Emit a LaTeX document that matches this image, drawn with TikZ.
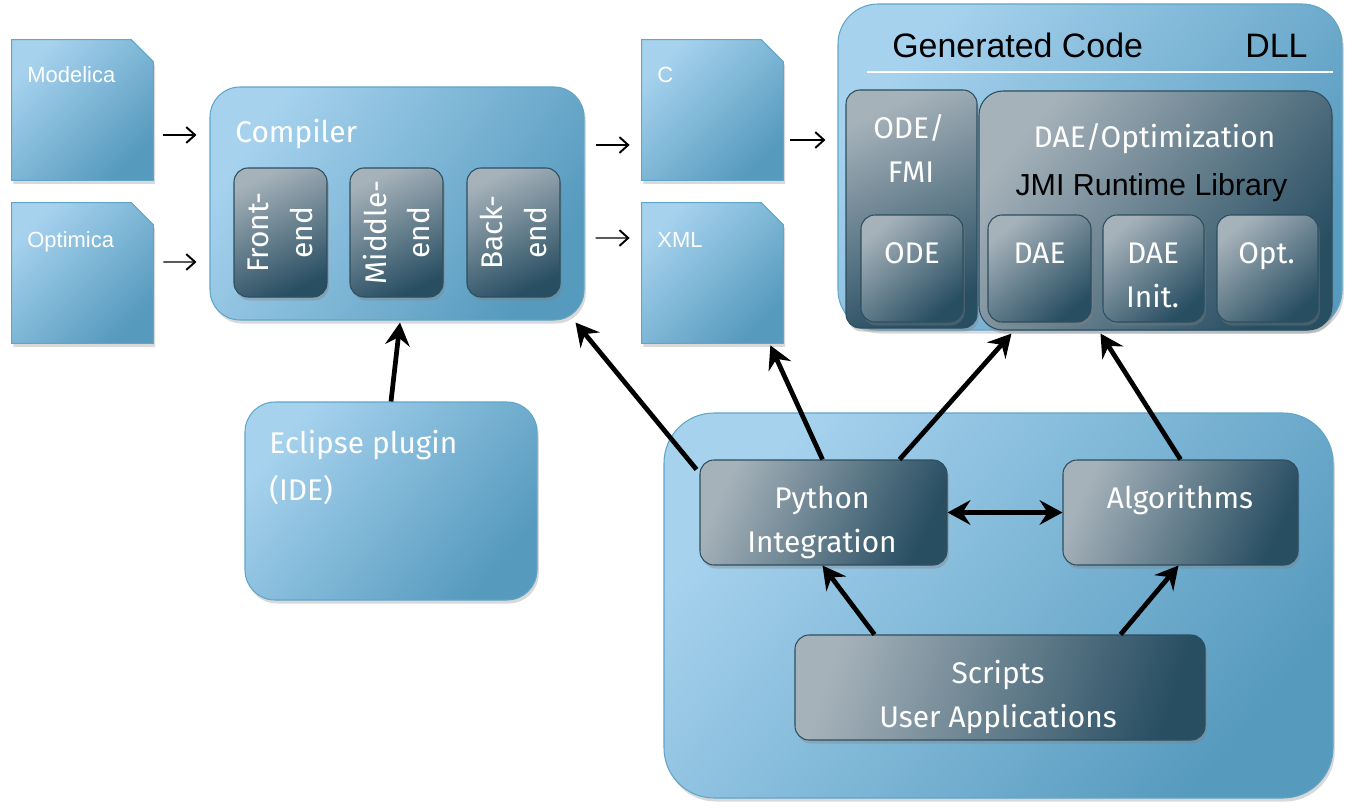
\documentclass[tikz,border=0pt]{standalone}
\usepackage{fontspec}
\setmainfont{Liberation Sans}
\newfontfamily\din{Fira Sans}
\usetikzlibrary{shadows,calc,arrows.meta}
\newdimen\pxu \pxu=0.02cm
\definecolor{lbtop}{RGB}{166,210,238}
\definecolor{lbbot}{RGB}{86,154,190}
\definecolor{lbord}{RGB}{96,166,200}
\definecolor{dbtop}{RGB}{166,178,186}
\definecolor{dbbot}{RGB}{40,78,98}
\definecolor{dbord}{RGB}{45,78,95}
\begin{document}
\begin{tikzpicture}[x=0.02cm,y=-0.02cm,
  lb/.style={draw=lbord, line width=0.6pt, top color=lbtop, bottom color=lbbot, shading angle=#1,
    drop shadow={opacity=0.3, shadow xshift=1pt, shadow yshift=-2pt}, inner sep=0pt},
  lb/.default=45,
  db/.style={draw=dbord, line width=0.6pt, top color=dbtop, bottom color=dbbot, shading angle=#1,
    rounded corners=14\pxu, drop shadow={opacity=0.35, shadow xshift=1pt, shadow yshift=-2pt}, inner sep=0pt},
  db/.default=45,
  docframe/.style={inner sep=0pt, minimum width=141\pxu, minimum height=140\pxu},
  doctxt/.style={anchor=base west, text=white, font=\fontsize{12.5pt}{15pt}\selectfont, inner sep=0pt},
  dintxt/.style={text=white, font=\din\fontsize{17pt}{25pt}\selectfont, inner sep=0pt},
  blacktxt/.style={text=black, inner sep=0pt},
  tharr/.style={line width=0.7pt, -{Straight Barb[length=5pt,width=9pt,line width=1.1pt]}},
  bigarr/.style={line width=2.7pt, -{Stealth[length=13pt,width=14pt,inset=4.5pt]}},
  bigdarr/.style={line width=2.7pt, {Stealth[length=13pt,width=14pt,inset=4.5pt]}-{Stealth[length=13pt,width=14pt,inset=4.5pt]}}
]
\useasboundingbox (0,0) rectangle (1365,811);

% documents
\node[docframe] (mod) at (82.5,110) {};
\node[docframe] (opt) at (82.5,273) {};
\node[docframe] (cdoc) at (712.5,110) {};
\node[docframe] (xml) at (712.5,273) {};
\foreach \d in {mod,opt,cdoc,xml}{
  \path[lb=45] (\d.north west) -- ($(\d.north east)+(-22,0)$) -- ($(\d.north east)+(0,22)$)
     -- (\d.south east) -- (\d.south west) -- cycle;
}
\node[doctxt] (tmod) at (27,83) {Modelica};
\node[doctxt] (topt) at (27,247) {Optimica};
\node[doctxt] (tc) at (657,83) {C};
\node[doctxt] (txml) at (657,247) {XML};

% compiler
\node[lb=55, rounded corners=30\pxu, minimum width=374\pxu, minimum height=233\pxu] (comp) at (397,203.5) {};
\node[dintxt, anchor=base west] (tcomp) at (235,142) {Compiler};
\node[db=25, minimum width=93\pxu, minimum height=129\pxu] (fe) at (280.5,232.5) {};
\node[db=25, minimum width=93\pxu, minimum height=129\pxu] (me) at (396.5,232.5) {};
\node[db=25, minimum width=93\pxu, minimum height=129\pxu] (be) at (513.5,232.5) {};
\node[dintxt, rotate=90, align=center] (tfe) at (fe) {Front-\\end};
\node[dintxt, rotate=90, align=center] (tme) at (me) {Middle-\\end};
\node[dintxt, rotate=90, align=center] (tbe) at (be) {Back-\\end};

% DLL
\node[lb=50, rounded corners=40\pxu, minimum width=504\pxu, minimum height=326\pxu] (dll) at (1090,167) {};
\node[blacktxt, anchor=base west, font=\fontsize{19.3pt}{23pt}\selectfont] (tgen) at (892,58) {Generated Code};
\node[blacktxt, anchor=base west, font=\fontsize{19.3pt}{23pt}\selectfont] (tdll) at (1245,58) {DLL};
\coordinate (l1) at (867,72);
\coordinate (l2) at (1333,72);
\draw[white, line width=0.8pt] (l1) -- (l2);
\node[db=25, minimum width=131\pxu, minimum height=238\pxu] (odefmi) at (911.5,209) {};
\node[db=50, minimum width=353\pxu, minimum height=239\pxu, rounded corners=24\pxu] (daeopt) at (1155.5,210.5) {};
\node[db=40, minimum width=102\pxu, minimum height=107\pxu] (ode) at (912,268.5) {};
\node[db=40, minimum width=103\pxu, minimum height=107\pxu] (dae) at (1039.5,268.5) {};
\node[db=40, minimum width=101\pxu, minimum height=107\pxu] (daei) at (1153.5,268.5) {};
\node[db=40, minimum width=101\pxu, minimum height=107\pxu] (optb) at (1267.5,268.5) {};
\node[dintxt, anchor=base] (todef1) at (909,138) {ODE/};
\node[dintxt, anchor=base] (todef2) at (911,182) {FMI};
\node[dintxt, anchor=base] (tdaeopt) at (1154.5,147) {DAE/Optimization};
\node[blacktxt, anchor=base, font=\fontsize{17.3pt}{21pt}\selectfont] (tjmi) at (1151.5,195) {JMI Runtime Library};
\node[dintxt, anchor=base] (tode) at (912,263) {ODE};
\node[dintxt, anchor=base] (tdae) at (1039.5,263) {DAE};
\node[dintxt, anchor=base] (tdaei1) at (1153,263) {DAE};
\node[dintxt, anchor=base] (tdaei2) at (1152.5,307) {Init.};
\node[dintxt, anchor=base] (topt2) at (1266.5,263) {Opt.};

% Eclipse
\node[lb=50, rounded corners=30\pxu, minimum width=292\pxu, minimum height=198\pxu] (ecl) at (391,501) {};
\node[dintxt, anchor=base west] (tecl1) at (269,453) {Eclipse plugin};
\node[dintxt, anchor=base west] (tecl2) at (269,500) {(IDE)};

% bottom container
\node[lb=50, rounded corners=50\pxu, minimum width=669\pxu, minimum height=385\pxu] (bot) at (998.5,605.5) {};
\node[db=65, minimum width=247\pxu, minimum height=105\pxu] (py) at (823.5,512.5) {};
\node[db=65, minimum width=235\pxu, minimum height=105\pxu] (alg) at (1180.5,512.5) {};
\node[db=72, minimum width=410\pxu, minimum height=105\pxu] (scr) at (1000,687.5) {};
\node[dintxt, anchor=base] (tpy1) at (822,508) {Python};
\node[dintxt, anchor=base] (tpy2) at (822,552) {Integration};
\node[dintxt, anchor=base] (talg) at (1180,508) {Algorithms};
\node[dintxt, anchor=base] (tscr1) at (998,683) {Scripts};
\node[dintxt, anchor=base] (tscr2) at (998,727) {User Applications};

% thin arrows
\draw[tharr] ($(mod.east)+(10,25)$) -- ($(comp.west)+(-13,-68.5)$);
\draw[tharr] ($(opt.east)+(10,-11)$) -- ($(comp.west)+(-13,58.5)$);
\draw[tharr] ($(comp.east)+(11,-58.5)$) -- ($(cdoc.west)+(-12,35)$);
\draw[tharr] ($(comp.east)+(11,34.5)$) -- ($(xml.west)+(-12,-35)$);
\draw[tharr] ($(cdoc.east)+(7,30)$) -- ($(dll.west)+(-12,-27)$);

% thick arrows
\draw[bigarr] (ecl.north) -- ($(comp.south)+(3,2)$);
\draw[bigarr] ($(py.north west)+(-3,10)$) -- ($(comp.south east)+(-9,2)$);
\draw[bigarr] ($(py.north)+(-1,0)$) -- ($(xml.south east)+(-13,2)$);
\draw[bigarr] ($(py.north)+(76,0)$) -- ($(daeopt.south west)+(33,3)$);
\draw[bigarr] (alg.north) -- ($(daeopt.south)+(-55,3)$);
\draw[bigdarr] (py.east) -- (alg.west);
\draw[bigarr] ($(scr.north west)+(80,0)$) -- ($(py.south)+(-1,0)$);
\draw[bigarr] ($(scr.north east)+(-85,0)$) -- ($(alg.south)+(-2,0)$);
\end{tikzpicture}
\end{document}
